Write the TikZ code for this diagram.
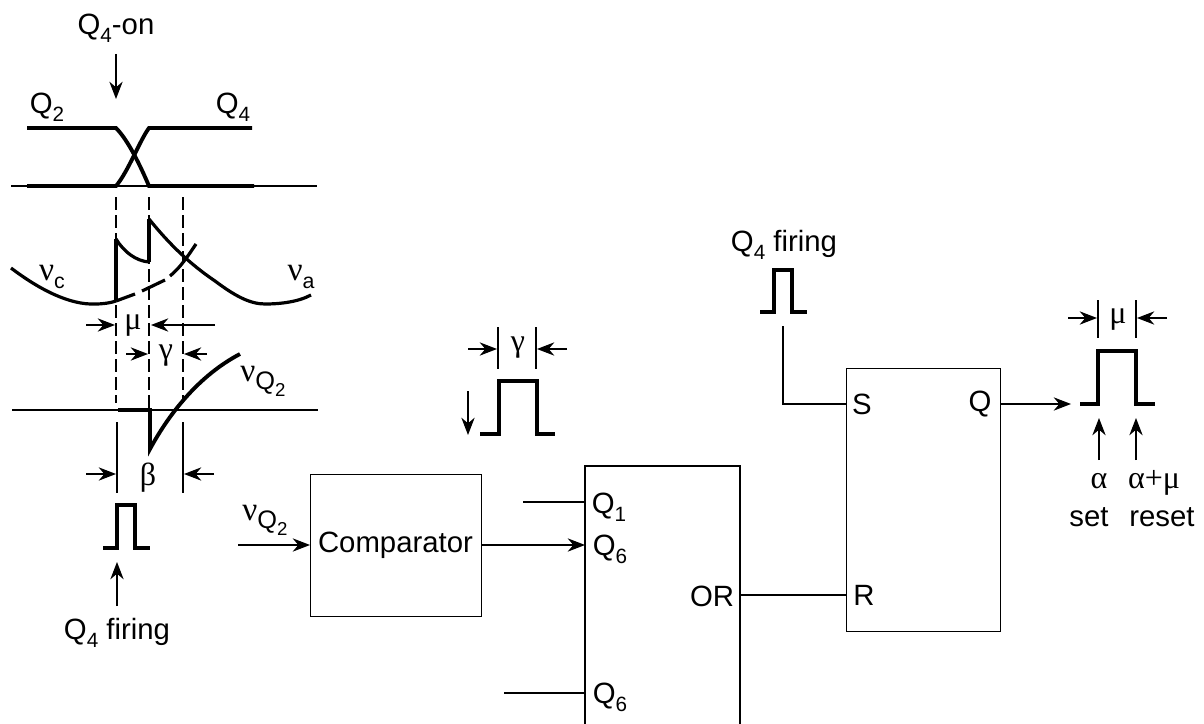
\documentclass[tikz,border=0pt]{standalone}
\usepackage{fontspec}
\setmainfont{Liberation Sans}
\newfontfamily\gk{Liberation Serif}
\usetikzlibrary{arrows.meta}
\newcommand{\Qq}[1]{Q\raisebox{-0.28em}{\fontsize{15.5}{15.5}\selectfont #1}}
\newcommand{\Vq}{{\gk\fontsize{25}{25}\selectfont ν}\raisebox{-0.3em}{\fontsize{19}{19}\selectfont Q\raisebox{-0.25em}{\fontsize{14}{14}\selectfont 2}}}
\newcommand{\Vs}[1]{{\gk\fontsize{25}{25}\selectfont ν}\raisebox{-0.25em}{\fontsize{16}{16}\selectfont #1}}
\tikzset{
  x=0.75pt,y=-0.75pt,
  lbl/.style={inner sep=0pt,font=\fontsize{22}{24}\selectfont},
  grk/.style={inner sep=0pt,font=\fontsize{24}{26}\selectfont\gk},
  sym/.style={inner sep=0pt,font=\fontsize{22}{24}\selectfont},
  block/.style={draw=black,line width=0.9pt,inner sep=0pt,anchor=north west},
  thin line/.style={line width=0.9pt},
  thick line/.style={line width=2.9pt,line join=miter},
  curve line/.style={line width=2.4pt},
  arrowline/.style={line width=0.9pt,-{Stealth[length=13pt,width=10pt]}},
  guide/.style={line width=0.9pt,dash pattern=on 10pt off 3.5pt},
}
\begin{document}
\begin{tikzpicture}
\useasboundingbox (0,0) rectangle (1204,724);
% labels
\node[lbl] (qon) at (116,28) {\Qq{4}-on};
\node[lbl] (q2) at (47,107) {\Qq{2}};
\node[lbl] (q4) at (233,107) {\Qq{4}};
\node[sym] (vc) at (52,277) {\Vs{c}};
\node[sym] (va) at (301,277) {\Vs{a}};
\node[grk] (mu1) at (133,326) {μ};
\node[grk] (ga1) at (166,356) {γ};
\node[sym] (vq1) at (263,381) {\Vq};
\node[grk] (be1) at (148,478) {β};
\node[lbl] (qf1) at (117,633) {\Qq{4} firing};
\node[sym] (vq2) at (265,520) {\Vq};
\node[grk] (ga2) at (518,348) {γ};
\node[lbl] (qf2) at (784,245) {\Qq{4} firing};
\node[grk] (mu2) at (1118,320) {μ};
\node[grk] (al) at (1099,481) {α};
\node[grk] (alm) at (1154,483) {α+μ};
\node[lbl] (set) at (1089,517) {set};
\node[lbl] (reset) at (1162,517) {reset};
% blocks
\node[block,minimum width=171*0.75pt,minimum height=142*0.75pt] (cmp) at (310,474) {};
\node[lbl] (cmpt) at (395.5,545) {Comparator};
\path[draw,line width=0.9pt] (585,730) -- (585,466) -- (740,466) -- (740,730);
\node[lbl] (q1l) at (609,507) {\Qq{1}};
\node[lbl] (q6l) at (610,549) {\Qq{6}};
\node[lbl] (q6m) at (610,697) {\Qq{6}};
\node[lbl] (orl) at (712,596) {OR};
\node[block,minimum width=154*0.75pt,minimum height=263*0.75pt] (sr) at (846,368) {};
\node[lbl] (sl) at (862,404) {S};
\node[lbl] (ql) at (980,404) {Q};
\node[lbl] (rl) at (864,595) {R};
% anchors
\coordinate (a1) at (116,54); \coordinate (a1e) at (116,99);
\draw[arrowline] (a1) -- (a1e);
% crossing
\draw[thick line] (27,128) -- (116,128) .. controls (128,140) and (140,165) .. (149,186) -- (254,186);
\draw[thick line] (27,186) -- (116,186) .. controls (128,172) and (140,140) .. (149,128) -- (252,128);
\draw[thin line] (11,186) -- (317,186);
% guides
\draw[guide] (116,197) -- (116,403);
\draw[guide] (149,197) -- (149,410);
\draw[guide] (183,197) -- (183,403);
\draw[thin line] (117,422) -- (117,493);
\draw[thin line] (183,422) -- (183,493);
% v curves
\draw[curve line] (11,268) .. controls (40,290) and (70,305) .. (95,304) .. controls (103,304) and (110,303) .. (116,301);
\draw[thick line] (116,301) -- (116,239);
\draw[curve line] (116,239) .. controls (124,252) and (136,261) .. (149,262);
\draw[thick line] (149,262) -- (149,219);
\draw[curve line] (149,219) .. controls (170,245) and (190,264) .. (215,281) .. controls (235,296) and (250,304) .. (265,304) .. controls (280,304) and (298,302) .. (311,295);
\draw[curve line] (116,301) -- (135,294);
\draw[curve line] (142,291) -- (165,280);
\draw[curve line] (170,276) .. controls (180,268) and (188,256) .. (196,244);
% mu row
\draw[arrowline] (86,325) -- (115,325);
\draw[arrowline] (215,325) -- (151,325);
\draw[arrowline] (126,354) -- (148,354);
\draw[arrowline] (207,354) -- (184,354);
% vQ2
\draw[thin line] (12,410) -- (318,410);
\draw[thick line] (118,410) -- (150,410) -- (150,449) .. controls (170,412) and (200,375) .. (240,354);
\draw[arrowline] (86,474) -- (116,474);
\draw[arrowline] (214,474) -- (184,474);
% pulse 1
\draw[thick line] (103,548) -- (117,548) -- (117,505) -- (135,505) -- (135,548) -- (150,548);
\coordinate (p1) at (117,562);
\coordinate (p1s) at (117,606);
\draw[arrowline] (p1s) -- (p1);
% comparator connectors
\coordinate (vin) at (238,545);
\draw[arrowline] (vin) -- (vin -| cmp.west);
\draw[arrowline] (cmp.east |- cmpt) -- (585,545);
\coordinate (q1in) at (523,502);
\draw[thin line] (q1in) -- (585,502);
\coordinate (q6in) at (504,693);
\draw[thin line] (q6in) -- (585,693);
\draw[thin line] (741,595) -- (sr.west |- rl);
% gamma pulse
\draw[thin line] (498,327) -- (498,369);
\draw[thin line] (536,327) -- (536,369);
\draw[arrowline] (468,349) -- (497,349);
\draw[arrowline] (567,349) -- (537,349);
\draw[thick line] (480,434) -- (499,434) -- (499,381) -- (537,381) -- (537,434) -- (555,434);
\draw[arrowline] (468,391) -- (468,435);
% Q4 firing pulse
\draw[thick line] (760,312) -- (774,312) -- (774,270) -- (792,270) -- (792,312) -- (807,312);
\coordinate (spt) at (783,326);
\draw[thin line] (spt) |- (sr.west |- sl);
% output
\draw[arrowline] (sr.east |- ql) -- (1071,404);
\draw[thick line] (1080,404) -- (1098,404) -- (1098,351) -- (1136,351) -- (1136,404) -- (1155,404);
\draw[thin line] (1098,300) -- (1098,338);
\draw[thin line] (1136,300) -- (1136,338);
\draw[arrowline] (1068,318) -- (1097,318);
\draw[arrowline] (1167,318) -- (1137,318);
\draw[arrowline] (1099,460) -- (1099,418);
\draw[arrowline] (1136,460) -- (1136,418);
\end{tikzpicture}
\end{document}
